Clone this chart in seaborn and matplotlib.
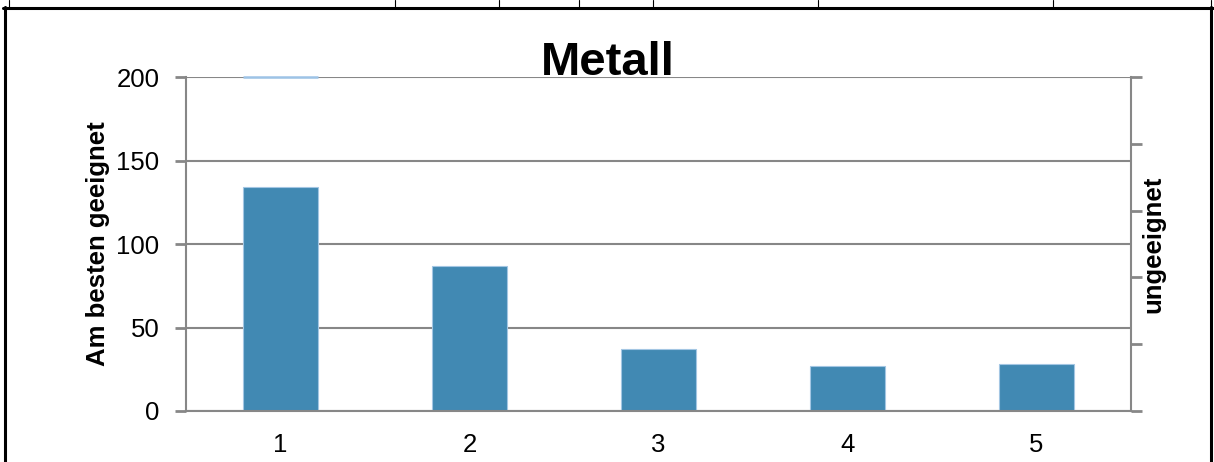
import matplotlib
matplotlib.use("Agg")
import matplotlib.pyplot as plt
import seaborn as sns
import pandas as pd
import numpy as np
from matplotlib.lines import Line2D

# ---- data ----
categories = ["1", "2", "3", "4", "5"]
values = [134, 87, 37, 27, 28]
left_ticks = [0, 50, 100, 150, 200]
title = "Metall"
left_label = "Am besten geeignet"
right_label = "ungeeignet"

# ---- style ----
sns.set_style("white")
plt.rcParams['font.family'] = ['Liberation Sans', 'DejaVu Sans']
plt.rcParams['text.color'] = 'black'
plt.rcParams['axes.labelcolor'] = 'black'
plt.rcParams['xtick.color'] = 'black'
plt.rcParams['ytick.color'] = 'black'

W, H = 1214, 462
fig = plt.figure(figsize=(W / 100, H / 100), dpi=100)
ax = fig.add_axes([186 / W, 1 - 411 / H, (1131 - 186) / W, (411 - 77) / H])

GRAY = "#878787"
BAR = "#4189b3"
EDGE = "#a3c6e3"

df = pd.DataFrame({"cat": categories, "val": values})
sns.barplot(data=df, x="cat", y="val", color=BAR, saturation=1, width=0.4,
            edgecolor=EDGE, linewidth=0.8, ax=ax, zorder=3)

ax.set_xlim(-0.5, len(categories) - 0.5)
ax.set_ylim(left_ticks[0], left_ticks[-1])
ax.set_yticks(left_ticks)
ax.set_yticklabels([str(t) for t in left_ticks])
ax.set_xlabel("")
ax.set_ylabel(left_label, fontsize=18.5, fontweight="bold", color="black")
ax.yaxis.label.set_verticalalignment("center")
ax.yaxis.set_label_coords((98 - 186) / 945, 0.5)

# category labels (major, no tick mark) and boundary ticks (minor)
ax.set_xticks(range(len(categories)))
ax.set_xticklabels(categories)
ax.set_xticks(np.arange(len(categories) + 1) - 0.5, minor=True)
ax.tick_params(axis="x", which="major", length=0, pad=16, labelsize=18.5, labelcolor="black")
ax.tick_params(axis="x", which="minor", length=8, width=2, color=GRAY, direction="out")
ax.tick_params(axis="y", which="major", length=8, width=2, color=GRAY, direction="out",
               pad=11, labelsize=18.5, labelcolor="black", left=True)

ax.yaxis.grid(True, color=GRAY, linewidth=1.5, zorder=0)
ax.set_axisbelow(True)
for s in ["top", "right"]:
    ax.spines[s].set_visible(False)
for s in ["left", "bottom"]:
    ax.spines[s].set_color(GRAY)
    ax.spines[s].set_linewidth(1.5)
    ax.spines[s].set_zorder(4)

# thin light-blue segment at the top of the first bar slot
p0 = ax.patches[0]
ax.hlines(left_ticks[-1], p0.get_x(), p0.get_x() + p0.get_width(),
          colors="#9dc3e6", linewidth=1.8, zorder=5, clip_on=False)

# secondary axis (right)
ax2 = ax.twinx()
ax2.set_ylim(0, 1)
ax2.set_yticks(np.linspace(0, 1, 6))
ax2.set_yticklabels([])
ax2.tick_params(axis="y", length=8, width=2, color=GRAY, direction="out", right=True)
for s in ["top", "left", "bottom"]:
    ax2.spines[s].set_visible(False)
ax2.spines["right"].set_color(GRAY)
ax2.spines["right"].set_linewidth(1.5)
ax2.set_ylabel(right_label, fontsize=18.5, fontweight="bold", color="black")
ax2.yaxis.label.set_verticalalignment("center")
ax2.yaxis.set_label_coords((1153 - 186) / 945, 0.5)
ax2.grid(False)

# title
fig.text(608 / W, 1 - 75 / H, title, ha="center", va="baseline",
         fontsize=34, fontweight="bold", color="black")

# document table borders around the chart
def fl(x0, y0, x1, y1, lw):
    fig.add_artist(Line2D([x0 / W, x1 / W], [1 - y0 / H, 1 - y1 / H],
                          color="black", linewidth=lw, transform=fig.transFigure))

fl(3, 7.5, 1213, 7.5, 2.2)
fl(5, 7, 5, H, 2.2)
fl(1211, 7, 1211, H, 2.2)
for xv in [9, 395, 499, 579, 653, 818, 1053, 1211]:
    fl(xv, 0, xv, 7, 0.8)

fig.savefig("out.png", dpi=100)
